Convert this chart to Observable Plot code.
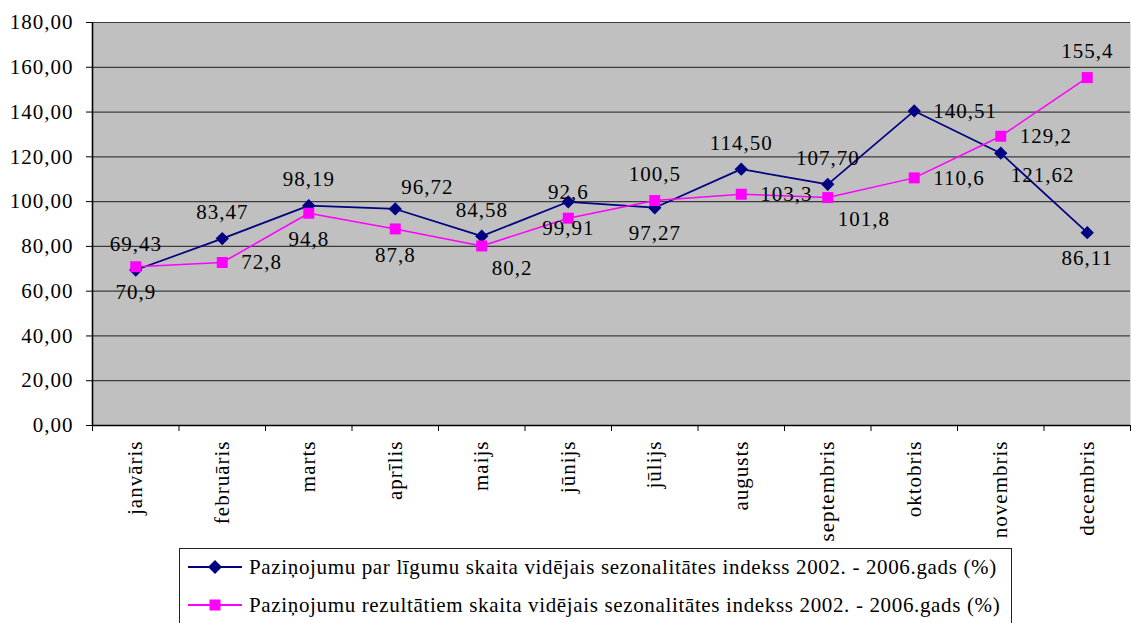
<!DOCTYPE html>
<html>
<head>
<meta charset="utf-8">
<script src="https://cdn.jsdelivr.net/npm/d3@7"></script>
<script src="https://cdn.jsdelivr.net/npm/@observablehq/plot@0.6"></script>
<style>
  html, body { margin: 0; padding: 0; background: white; }
  #wrap { position: relative; width: 1131px; height: 623px; overflow: hidden; }
  #legend { position: absolute; left: 179px; top: 548px; width: 833px; height: 100px;
    border: 1px solid #222; box-sizing: border-box; font-family: 'Liberation Serif', 'Times New Roman', serif;
    font-size: 21px; letter-spacing: 0.65px; color: #000; }
  .row { position: absolute; left: 0; height: 24px; display: flex; align-items: center; white-space: nowrap; }
  .row svg { margin-left: 8px; margin-right: 7px; }
</style>
</head>
<body>
<div id="wrap">
  <div id="chart"></div>
  <div id="legend"></div>
</div>
<script>
const months = ["janvāris", "februāris", "marts", "aprīlis", "maijs", "jūnijs", "jūlijs", "augusts", "septembris", "oktobris", "novembris", "decembris"];
const seriesNames = [
  "Paziņojumu par līgumu skaita vidējais sezonalitātes indekss 2002. - 2006.gads (%)",
  "Paziņojumu rezultātiem skaita vidējais sezonalitātes indekss 2002. - 2006.gads (%)"
];
const contractIndex = [69.43, 83.47, 98.19, 96.72, 84.58, 99.91, 97.27, 114.50, 107.70, 140.51, 121.62, 86.11];
const resultIndex = [70.9, 72.8, 94.8, 87.8, 80.2, 92.6, 100.5, 103.3, 101.8, 110.6, 129.2, 155.4];
const yTicks = [0, 20, 40, 60, 80, 100, 120, 140, 160, 180];
// data-label placement (as set in the original chart)
const contractLabelSide = ["above", "above", "above", "aboveRight", "above", "below", "below", "above", "above", "right", "belowRight", "below"];
const resultLabelSide = ["below", "right", "below", "below", "belowRight", "above", "above", "right", "belowRight", "right", "right", "above"];

const colors = ["#000080", "#ff00ff"];
const decimals = [2, 1];
const font = "'Liberation Serif', 'Times New Roman', serif";

const rows = [];
[contractIndex, resultIndex].forEach((vals, s) => {
  vals.forEach((v, i) => rows.push({
    i, value: v, series: s,
    label: v.toFixed(decimals[s]).replace(".", ","),
    side: (s === 0 ? contractLabelSide : resultLabelSide)[i]
  }));
});

const sides = {
  above: {dx: 0, dy: -26, textAnchor: "middle"},
  below: {dx: 0, dy: 26, textAnchor: "middle"},
  right: {dx: 19, dy: 0, textAnchor: "start"},
  aboveRight: {dx: 6, dy: -22, textAnchor: "start"},
  belowRight: {dx: 10, dy: 22, textAnchor: "start"}
};

const fmt = d => d.toFixed(2).replace(".", ",");

const chart = Plot.plot({
  width: 1131,
  height: 545,
  marginTop: 22,
  marginBottom: 120,
  marginLeft: 92,
  marginRight: 1,
  style: `font-family: ${font}; font-size: 21px; letter-spacing: 1px; background: white; overflow: visible;`,
  x: {domain: [-0.5, 11.5], label: null},
  y: {domain: [0, 180], label: null},
  marks: [
    Plot.frame({fill: "#c0c0c0", stroke: null}),
    Plot.ruleY(yTicks, {stroke: "#3c3c3c", strokeWidth: 1.2}),
    Plot.axisY({ticks: yTicks, tickSize: 6, tickPadding: 13, tickFormat: fmt, stroke: "#000", fill: "#000", fontSize: 21}),
    Plot.axisX({ticks: d3.range(-0.5, 12, 1), tickSize: 6, tickFormat: () => "", stroke: "#000"}),
    Plot.axisX({ticks: d3.range(12), tickSize: 0, tickPadding: 15, tickRotate: -90, tickFormat: i => months[i], fill: "#000", fontSize: 21}),
    Plot.ruleX([-0.5], {stroke: "#000", strokeWidth: 1.6}),
    Plot.ruleY([0], {stroke: "#000", strokeWidth: 1.6}),
    Plot.line(rows.filter(d => d.series === 0), {x: "i", y: "value", stroke: colors[0], strokeWidth: 1.7}),
    Plot.line(rows.filter(d => d.series === 1), {x: "i", y: "value", stroke: colors[1], strokeWidth: 1.5}),
    Plot.dot(rows.filter(d => d.series === 0), {x: "i", y: "value", symbol: "diamond2", fill: colors[0], stroke: null, r: 6}),
    Plot.dot(rows.filter(d => d.series === 1), {x: "i", y: "value", symbol: "square", fill: colors[1], stroke: null, r: 6.2}),
    ...Object.entries(sides).map(([side, o]) =>
      Plot.text(rows.filter(d => d.side === side), {
        x: "i", y: "value", text: "label", fill: "#000", fontSize: 21,
        dx: o.dx, dy: o.dy, textAnchor: o.textAnchor
      })
    )
  ]
});
document.getElementById("chart").appendChild(chart);

// legend
const legend = document.getElementById("legend");
const rowTops = [6, 44];
seriesNames.forEach((name, s) => {
  const row = document.createElement("div");
  row.className = "row";
  row.style.top = rowTops[s] + "px";
  const marker = s === 0
    ? `<path d="M27,0 L34,7 L27,14 L20,7 Z" fill="${colors[0]}"/>`
    : `<rect x="21.5" y="1.5" width="11" height="11" fill="${colors[1]}"/>`;
  row.innerHTML = `<svg width="54" height="14" viewBox="0 0 54 14"><line x1="0" y1="7" x2="54" y2="7" stroke="${colors[s]}" stroke-width="2"/>${marker}</svg><span>${name}</span>`;
  legend.appendChild(row);
});
</script>
</body>
</html>
